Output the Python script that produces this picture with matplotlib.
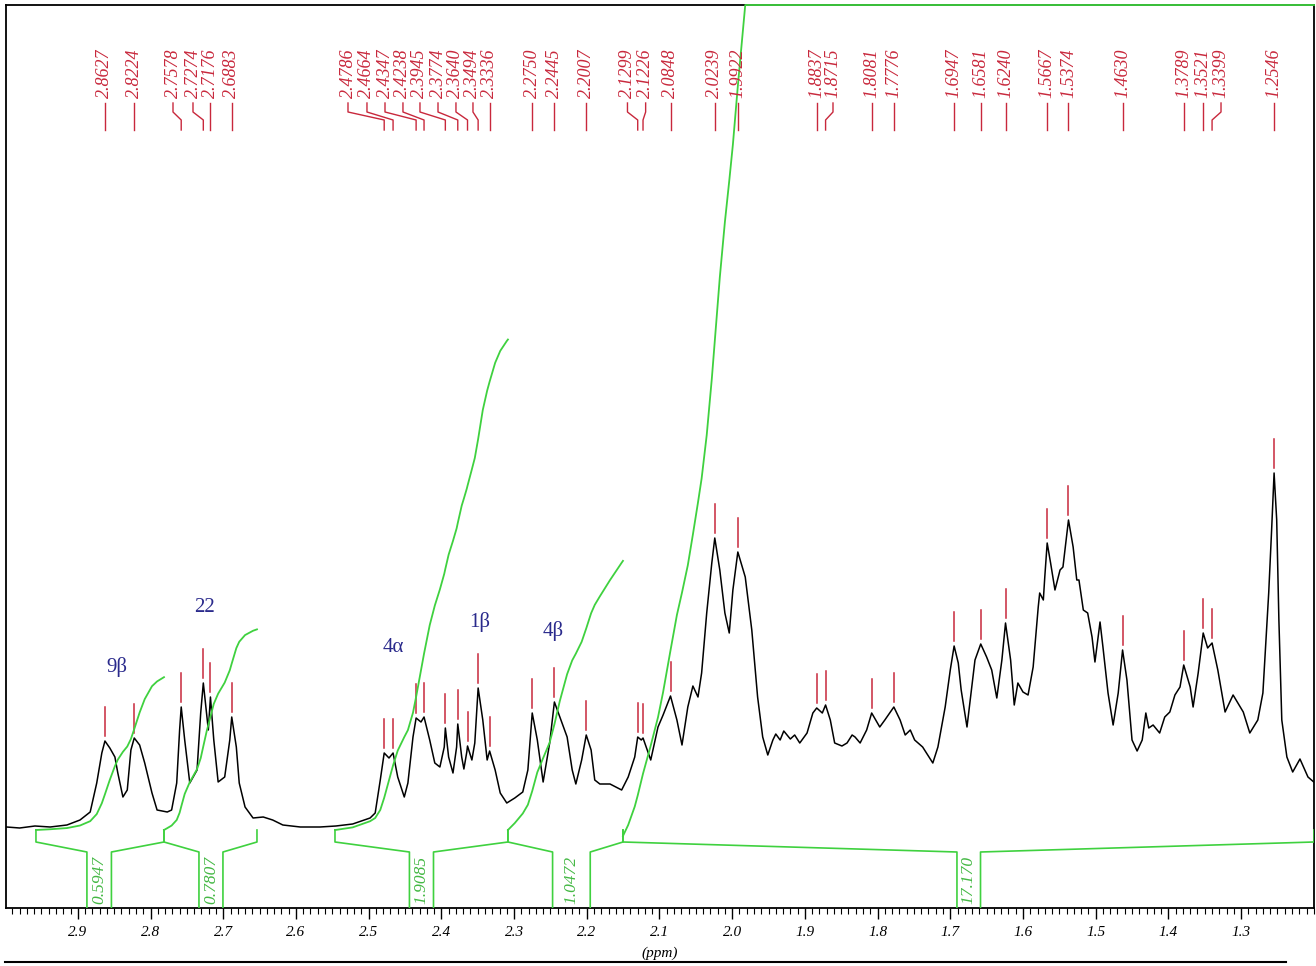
import numpy as np
import matplotlib
matplotlib.use("Agg")
import matplotlib.pyplot as plt
from matplotlib.ticker import MultipleLocator
from matplotlib.lines import Line2D

plt.rcParams['font.family'] = ['Liberation Serif', 'DejaVu Serif']

# spectrum trace (ppm, intensity above baseline)
ppm = [2.998, 2.980, 2.959, 2.938, 2.915, 2.897, 2.883, 2.874, 2.867, 2.8627,
       2.856, 2.849, 2.845, 2.838, 2.832, 2.827, 2.8224, 2.815, 2.808, 2.798,
       2.791, 2.777, 2.771, 2.764, 2.760, 2.7578, 2.753, 2.746, 2.736, 2.731,
       2.7274, 2.7225, 2.7205, 2.7176, 2.713, 2.707, 2.698, 2.691, 2.6883, 2.682,
       2.678, 2.670, 2.659, 2.645, 2.632, 2.618, 2.594, 2.567, 2.545, 2.522,
       2.498, 2.491, 2.484, 2.4786, 2.472, 2.4664, 2.460, 2.451, 2.446, 2.439,
       2.4347, 2.428, 2.4238, 2.416, 2.409, 2.402, 2.396, 2.3945, 2.390, 2.384,
       2.379, 2.3774, 2.372, 2.369, 2.365, 2.3640, 2.358, 2.354, 2.3494, 2.343,
       2.337, 2.3336, 2.326, 2.319, 2.310, 2.299, 2.288, 2.281, 2.2750, 2.268,
       2.260, 2.251, 2.2445, 2.237, 2.227, 2.220, 2.215, 2.207, 2.2007, 2.194,
       2.189, 2.182, 2.168, 2.152, 2.143, 2.134, 2.1299, 2.125, 2.1226, 2.112,
       2.102, 2.095, 2.0848, 2.076, 2.069, 2.061, 2.054, 2.047, 2.042, 2.035,
       2.028, 2.0239, 2.017, 2.010, 2.004, 1.999, 1.9922, 1.982, 1.973, 1.965,
       1.958, 1.951, 1.944, 1.940, 1.934, 1.929, 1.920, 1.914, 1.907, 1.897,
       1.889, 1.8837, 1.876, 1.8715, 1.865, 1.859, 1.849, 1.842, 1.835, 1.831,
       1.824, 1.815, 1.8081, 1.797, 1.790, 1.7776, 1.769, 1.762, 1.755, 1.749,
       1.738, 1.731, 1.724, 1.717, 1.707, 1.700, 1.6947, 1.689, 1.685, 1.677,
       1.666, 1.6581, 1.650, 1.643, 1.636, 1.629, 1.6240, 1.617, 1.612, 1.607,
       1.600, 1.593, 1.586, 1.579, 1.577, 1.572, 1.570, 1.5667, 1.562, 1.556,
       1.549, 1.545, 1.5374, 1.531, 1.526, 1.523, 1.517, 1.511, 1.505, 1.501,
       1.494, 1.490, 1.483, 1.476, 1.469, 1.4630, 1.457, 1.450, 1.443, 1.436,
       1.431, 1.427, 1.421, 1.412, 1.405, 1.398, 1.391, 1.384, 1.3789, 1.370,
       1.366, 1.359, 1.3521, 1.346, 1.3399, 1.332, 1.322, 1.311, 1.297, 1.288,
       1.277, 1.270, 1.262, 1.258, 1.2546, 1.251, 1.248, 1.244, 1.237, 1.229,
       1.219, 1.208, 1.200]
intensity = [1, 0, 2, 1, 3, 8, 16, 45, 75, 87,
             80, 71, 55, 31, 38, 78, 90, 83, 65, 35,
             18, 16, 18, 45, 98, 121, 88, 45, 58, 115,
             145, 112, 98, 131, 88, 46, 51, 88, 111, 81,
             45, 21, 10, 11, 8, 3, 1, 1, 2, 4,
             10, 15, 48, 75, 70, 75, 51, 31, 45, 91,
             110, 106, 111, 88, 65, 61, 81, 100, 71, 55,
             81, 104, 71, 59, 76, 82, 68, 85, 140, 108,
             68, 77, 58, 35, 25, 30, 36, 58, 115, 88,
             46, 85, 126, 111, 91, 58, 44, 68, 93, 78,
             48, 44, 44, 38, 51, 71, 91, 88, 90, 68,
             101, 113, 132, 108, 83, 121, 142, 131, 155, 215,
             265, 290, 258, 215, 195, 238, 276, 251, 198, 131,
             91, 73, 88, 94, 88, 97, 89, 93, 85, 95,
             115, 120, 115, 123, 108, 85, 82, 85, 93, 91,
             85, 98, 115, 101, 108, 121, 108, 93, 98, 88,
             81, 73, 65, 81, 121, 158, 182, 165, 138, 101,
             168, 184, 171, 158, 130, 168, 205, 168, 123, 145,
             136, 133, 161, 221, 235, 228, 251, 285, 265, 238,
             258, 261, 308, 281, 248, 248, 218, 215, 191, 166,
             206, 181, 135, 103, 135, 178, 148, 88, 77, 88,
             115, 100, 103, 95, 111, 116, 133, 141, 163, 141,
             121, 155, 195, 180, 185, 158, 116, 133, 116, 95,
             108, 135, 235, 298, 355, 308, 208, 108, 71, 56,
             69, 51, 46]

# picked peaks and where their labels sit
peaks = [2.8627, 2.8224, 2.7578, 2.7274, 2.7176, 2.6883,
         2.4786, 2.4664, 2.4347, 2.4238, 2.3945, 2.3774, 2.3640, 2.3494, 2.3336,
         2.2750, 2.2445, 2.2007, 2.1299, 2.1226, 2.0848, 2.0239, 1.9922,
         1.8837, 1.8715, 1.8081, 1.7776, 1.6947, 1.6581, 1.6240, 1.5667, 1.5374,
         1.4630, 1.3789, 1.3521, 1.3399, 1.2546]
label_x = [2.8627, 2.8224, 2.7691, 2.7416, 2.7176, 2.6883,
           2.5284, 2.5023, 2.4775, 2.4528, 2.4294, 2.4046, 2.3799, 2.3565, 2.3336,
           2.2750, 2.2445, 2.2007, 2.1440, 2.1190, 2.0848, 2.0239, 1.9922,
           1.8837, 1.8613, 1.8081, 1.7776, 1.6947, 1.6581, 1.6240, 1.5667, 1.5374,
           1.4630, 1.3789, 1.3521, 1.3276, 1.2546]

# integrals
integ_start = [2.9576, 2.7815, 2.5463, 2.3084, 2.1502]
integ_end = [2.7815, 2.6536, 2.3084, 2.1502, 1.1997]
integ_labels = ['0.5947', '0.7807', '1.9085', '1.0472', '17.170']
box_left = [2.8875, 2.7334, 2.4439, 2.2470, 1.6908]
box_right = [2.8538, 2.7004, 2.4108, 2.1952, 1.6584]

# assignments
assign_text = ['9\u03b2', '22', '4\u03b1', '1\u03b2', '4\u03b2']
assign_x = [2.846, 2.7251, 2.4665, 2.3469, 2.2464]
assign_y = [161, 221, 180, 206, 197]

tick_vals = [2.9, 2.8, 2.7, 2.6, 2.5, 2.4, 2.3, 2.2, 2.1, 2.0, 1.9, 1.8, 1.7, 1.6, 1.5, 1.4, 1.3]
tick_labels = ['2.9', '2.8', '2.7', '2.6', '2.5', '2.4', '2.3', '2.2', '2.1', '2.0',
               '1.9', '1.8', '1.7', '1.6', '1.5', '1.4', '1.3']

RED = '#c8283c'
GREEN = '#3fd13f'
BLUE = '#2a2a8c'
YTOP = 823
PX_PER_UNIT = 257

x = np.array(ppm)
h = np.array(intensity, dtype=float)

fig = plt.figure(figsize=(13.16, 9.66), dpi=100)
ax = fig.add_axes([6 / 1316, 58 / 966, 1308 / 1316, 903 / 966])
ax.set_xlim(2.9988, 1.1997)
ax.set_ylim(-80, YTOP)

ax.plot(x, h, color='black', lw=1.1, zorder=2)

# integral curves + brackets
for i in range(len(integ_start)):
    a, b = integ_start[i], integ_end[i]
    m = (x <= a) & (x >= b)
    ha = np.interp(a, x[::-1], h[::-1])
    hb = np.interp(b, x[::-1], h[::-1])
    xs = np.concatenate([[a], x[m], [b]])
    hs = np.concatenate([[ha], h[m], [hb]])
    cum = np.concatenate([[0], np.cumsum(0.5 * (hs[1:] + hs[:-1]) * np.abs(np.diff(xs)))])
    base = -8 if i == 4 else -2
    curve = base + cum / cum[-1] * float(integ_labels[i]) * PX_PER_UNIT
    curve = np.minimum(curve, YTOP)
    ax.plot(xs, curve, color=GREEN, lw=1.3, zorder=3, clip_on=False)

    bl, br = box_left[i], box_right[i]
    ax.plot([a, a, bl, bl], [-2, -14, -24, -80], color=GREEN, lw=1.2, zorder=3)
    ax.plot([br, br, b, b], [-80, -24, -14, -2], color=GREEN, lw=1.2, zorder=3)
    ax.text((bl + br) / 2, -52, integ_labels[i], rotation=90, ha='center', va='center',
            color='#44b844', fontsize=12.5, style='italic')

# peak markers and labels
for p, lx in zip(peaks, label_x):
    hp = np.interp(p, x[::-1], h[::-1])
    ax.plot([p, p], [hp + 5, hp + 34], color=RED, lw=1.1)
    ax.plot([lx, lx, p, p], [725, 716, 708, 698], color=RED, lw=1.0)
    ax.text(lx, 730, f'{p:.4f}', rotation=90, ha='center', va='bottom',
            color=RED, fontsize=13, style='italic')

for t, ax_x, ax_y in zip(assign_text, assign_x, assign_y):
    ax.text(ax_x, ax_y, t, ha='center', va='center', color=BLUE, fontsize=15)

ax.set_xticks(tick_vals)
ax.set_xticklabels(tick_labels, fontstyle='italic', fontsize=11)
ax.xaxis.set_minor_locator(MultipleLocator(0.01))
ax.tick_params(axis='x', which='major', direction='out', length=8, width=1, pad=5)
ax.tick_params(axis='x', which='minor', direction='out', length=4, width=0.8)
ax.set_yticks([])
for s in ax.spines.values():
    s.set_linewidth(1.3)

fig.text(660 / 1316, 1 - 953 / 966, '(ppm)', ha='center', va='center', style='italic', fontsize=11)
fig.add_artist(Line2D([5 / 1316, 1286 / 1316], [4 / 966, 4 / 966], color='black', lw=1.5))

fig.savefig('out.png', dpi=100)
